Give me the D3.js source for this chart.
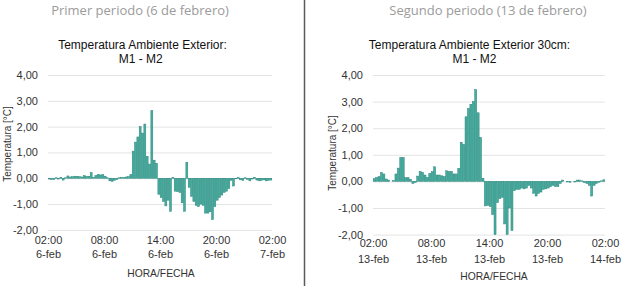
<!DOCTYPE html>
<html lang="es">
<head>
<meta charset="UTF-8">
<title>Temperatura Ambiente Exterior M1 - M2</title>
<script src="https://d3js.org/d3.v7.min.js"></script>
<style>
    body { margin: 0; background: #fff; }
    svg { display: block; font-family: "Liberation Sans", Arial, sans-serif; }
    .grid line { stroke: #e4e4e4; }
    .grid text { fill: #333; font-size: 11px; }
</style>
</head>
<body>
<svg id="chart" width="624" height="288"></svg>
<script>
// Diferencia M1 - M2 cada 15 minutos, 02:00 -> 02:00 del dia siguiente
const feb6Values = [
    -0.03, -0.05, -0.04, 0.02, -0.03, 0.04, -0.07, 0.02,
    0.09, 0.05, 0.06, 0.08, 0.07, 0.06, 0.05, 0.10, 0.07, 0.08, 0.22, 0.04,
    0.10, 0.15, 0.13, 0.14, 0.08, 0.02,
    -0.10, -0.12, -0.08, -0.05,
    0.02, 0.04, 0.03, 0.05, 0.06, 0.14,
    1.05, 1.40, 1.60, 2.00, 1.75, 2.10, 0.85, 0.55, 2.62, 0.70, 0.58,
    -0.62, -0.75, -0.90, -1.07, -0.85, -1.28, 0.03,
    -0.50, -0.52, -0.55, -0.95, -1.28, 0.62, -0.35,
    -0.70, -0.90, -1.05, -1.10, -1.00, -1.05, -1.35, -1.35, -1.30, -1.60,
    -1.10, -0.85, -0.75, -0.65, -0.55, -0.50, -0.40, -0.08, -0.30,
    -0.02, 0.03, -0.06, -0.08, 0.02, -0.05, -0.10, -0.03, 0.04, -0.07,
    -0.10, -0.08, -0.06, -0.10, -0.08, -0.07
];
const feb13Values = [
    0.10, 0.15, 0.18, 0.33, 0.28, 0.09, 0.05, 0.00, 0.03, 0.28,
    0.50, 0.90, 0.90, 0.14, 0.14, 0.08, -0.08, -0.04, 0.20, 0.37,
    0.34, 0.24, 0.15, 0.30, 0.37, 0.55, 0.24, 0.24, 0.21, 0.18,
    0.40, 0.37, 0.37, 0.28, 0.28, 0.49, 1.47, 1.39, 2.43, 2.74,
    2.90, 3.00, 3.45, 2.58, 1.65, 0.12,
    -0.92, -0.90, -0.95, -1.25, -2.00, -0.80, -0.65, -0.60, -1.60, -2.00,
    -1.00, -1.85, -0.35, -0.30, -0.30, -0.25, -0.28, -0.25, -0.15, -0.25,
    -0.45, -0.55, -0.45, -0.40, -0.30, -0.28, -0.25, -0.20, -0.15, -0.20,
    -0.20, -0.08, 0.05, 0.00, -0.02, -0.03, 0.00, -0.02, 0.05, 0.05,
    0.02, -0.05, -0.08, -0.15, -0.55, -0.15, -0.08, -0.03, 0.02, 0.06
];
const yTicks = [-2, -1, 0, 1, 2, 3, 4];
const hourLabels = ["02:00", "08:00", "14:00", "20:00", "02:00"];
const feb6DateLabels = ["6-feb", "6-feb", "6-feb", "6-feb", "7-feb"];
const feb13DateLabels = ["13-feb", "13-feb", "13-feb", "13-feb", "14-feb"];

const STEP = 15 * 60 * 1000;
const es = d3.formatLocale({ decimal: ",", thousands: ".", grouping: [3], currency: ["", " €"], minus: "-" });
const fmt = es.format(".2f");

const svg = d3.select("#chart");

// separador entre los dos paneles
svg.append("line")
    .attr("x1", 304.5).attr("x2", 304.5)
    .attr("y1", 0).attr("y2", 286)
    .attr("stroke", "#5a5a5a").attr("stroke-width", 1.5);

function drawPanel(cfg) {
    const g = svg.append("g");
    const start = cfg.start;
    const times = cfg.values.map((v, i) => new Date(+start + i * STEP));
    const end = new Date(+start + 24 * 3600 * 1000);

    const x = d3.scaleTime().domain([start, end]).range([cfg.left, cfg.right]);
    const y = d3.scaleLinear().domain([-2, 4]).range([cfg.bottom, cfg.top]);

    // encabezado del panel
    g.append("text")
        .attr("x", cfg.headX).attr("y", 15)
        .attr("text-anchor", "middle")
        .attr("font-family", "'Open Sans', sans-serif")
        .attr("font-size", 13).attr("fill", "#9b9b9b")
        .text(cfg.heading);

    g.append("text")
        .attr("x", cfg.titleX).attr("y", 49)
        .attr("text-anchor", "middle")
        .attr("font-size", 12).attr("fill", "#111")
        .text(cfg.title);
    g.append("text")
        .attr("x", cfg.subX).attr("y", 63)
        .attr("text-anchor", "middle")
        .attr("font-size", 12).attr("fill", "#111")
        .text("M1 - M2");

    // rejilla + etiquetas eje Y
    const ga = g.append("g")
        .attr("class", "grid")
        .attr("transform", `translate(${cfg.left},0)`)
        .call(d3.axisLeft(y).tickValues(yTicks).tickFormat(fmt)
            .tickSize(-(cfg.right - cfg.left)).tickPadding(10));
    ga.select(".domain").remove();
    ga.selectAll("text").attr("font-family", null).attr("font-size", null);

    // barras
    const w = x(new Date(+start + STEP)) - x(start);
    g.append("g").selectAll("rect")
        .data(cfg.values)
        .join("rect")
        .attr("x", (d, i) => x(times[i]) + 0.2)
        .attr("width", w - 0.4)
        .attr("y", d => y(Math.max(0, d)))
        .attr("height", d => Math.abs(y(d) - y(0)))
        .attr("fill", "#45ad9f")
        .attr("stroke", "#2b857c")
        .attr("stroke-width", 0.5);

    // eje X: hora + fecha
    const tickTimes = hourLabels.map((h, i) => new Date(+start + i * 6 * 3600 * 1000));
    const xa = g.append("g")
        .attr("transform", `translate(0,${cfg.bottom})`)
        .call(d3.axisBottom(x).tickValues(tickTimes).tickSize(0).tickPadding(0)
            .tickFormat((d, i) => hourLabels[i]));
    xa.select(".domain").remove();
    xa.selectAll("text")
        .attr("font-family", null).attr("font-size", 11).attr("fill", "#333")
        .attr("dy", null).attr("y", cfg.hourDy);
    xa.selectAll(".tick").append("text")
        .attr("fill", "#333").attr("font-size", 11)
        .attr("y", cfg.dateDy)
        .text((d, i) => cfg.dates[i]);

    g.append("text")
        .attr("x", cfg.xTitleX).attr("y", cfg.xTitleY)
        .attr("text-anchor", "middle")
        .attr("font-size", 10.3).attr("fill", "#333")
        .text("HORA/FECHA");

    g.append("text")
        .attr("transform", `translate(${cfg.yTitleX},${cfg.yTitleY}) rotate(-90)`)
        .attr("text-anchor", "middle")
        .attr("font-size", 10).attr("fill", "#333")
        .text("Temperatura [°C]");
}

drawPanel({
    values: feb6Values, dates: feb6DateLabels,
    start: new Date(2024, 1, 6, 2, 0),
    left: 48, right: 272, top: 75, bottom: 229.9,
    heading: "Primer periodo (6 de febrero)", headX: 140,
    title: "Temperatura Ambiente Exterior:", titleX: 142.5, subX: 140.7,
    hourDy: 14, dateDy: 28, xTitleX: 161, xTitleY: 277,
    yTitleX: 11, yTitleY: 144
});

drawPanel({
    values: feb13Values, dates: feb13DateLabels,
    start: new Date(2024, 1, 13, 2, 0),
    left: 373, right: 605, top: 75, bottom: 234.6,
    heading: "Segundo periodo (13 de febrero)", headX: 488,
    title: "Temperatura Ambiente Exterior 30cm:", titleX: 469.5, subX: 474.5,
    hourDy: 12.5, dateDy: 28.5, xTitleX: 494, xTitleY: 280,
    yTitleX: 336, yTitleY: 153
});
</script>
</body>
</html>
